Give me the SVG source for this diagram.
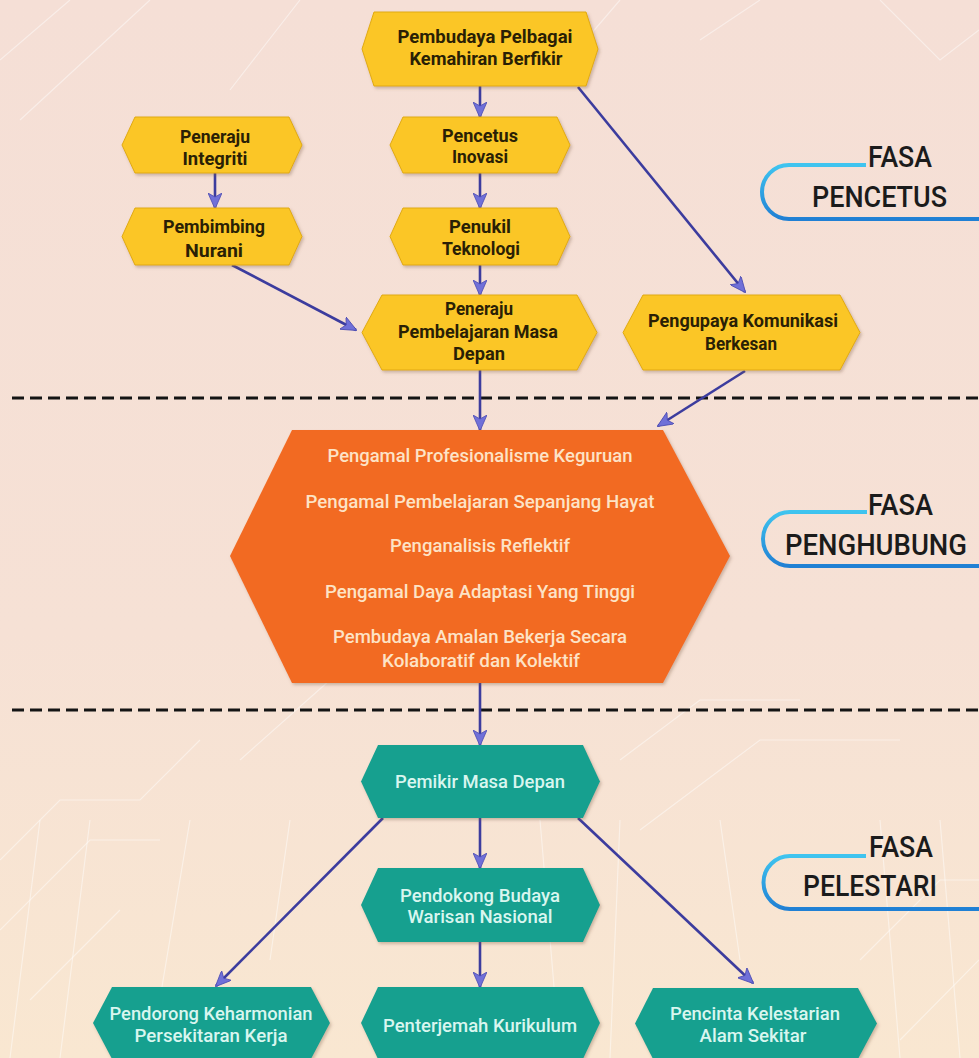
<svg xmlns="http://www.w3.org/2000/svg" width="979" height="1058" viewBox="0 0 979 1058">
<defs>
<linearGradient id="bg" x1="0" y1="0" x2="0" y2="1">
<stop offset="0" stop-color="#f5dfd6"/>
<stop offset="0.6" stop-color="#f6e1d5"/>
<stop offset="1" stop-color="#f9e7d1"/>
</linearGradient>
<linearGradient id="brk" x1="0" y1="0" x2="0" y2="1">
<stop offset="0" stop-color="#3fc4ef"/>
<stop offset="1" stop-color="#2080d4"/>
</linearGradient>
<filter id="sh" x="-10%" y="-10%" width="120%" height="130%">
<feDropShadow dx="1.5" dy="2" stdDeviation="1.5" flood-color="#7a5a40" flood-opacity="0.35"/>
</filter>
<marker id="ah" markerUnits="userSpaceOnUse" markerWidth="16" markerHeight="14" refX="15" refY="7" orient="auto">
<path d="M0,0 L16,7 L0,14 L4,7 Z" fill="#7070d8" stroke="#4a4ab2" stroke-width="0.8"/>
</marker>
<style>
.yel{fill:#fbc625;stroke:#e0a912;stroke-width:1;filter:url(#sh)}
.org{fill:#f26a22;filter:url(#sh)}
.teal{fill:#17a08f;filter:url(#sh)}
.ty{font-family:Roboto,"Liberation Sans",sans-serif;font-weight:bold;font-size:18px;fill:#2a1f05;text-anchor:middle}
.to{font-family:Roboto,"Liberation Sans",sans-serif;font-weight:500;font-size:18px;fill:#fde3c6;text-anchor:middle}
.tt{font-family:Roboto,"Liberation Sans",sans-serif;font-weight:500;font-size:18px;fill:#d9f6ef;text-anchor:middle}
.ph{font-family:Roboto,"Liberation Sans",sans-serif;font-weight:500;font-size:29px;fill:#1b1b1b}
.conn{stroke:#3c3c9e;stroke-width:2.6;fill:none;marker-end:url(#ah)}
.dash{stroke:#141414;stroke-width:3;stroke-dasharray:12 6;fill:none}
.bk{fill:none;stroke:url(#brk);stroke-width:4}
.deco{stroke:#ffffff;stroke-opacity:0.45;fill:none;stroke-width:1.2}
</style>
</defs>
<rect width="979" height="1058" fill="url(#bg)"/>
<g id="background-decor">
<path class="deco" d="M0,60 L70,0 M20,120 L150,0 M300,0 L230,90 M620,0 L560,70 M700,40 L760,0 M880,0 L940,60 L979,30"/>
<path class="deco" d="M0,860 L60,800 L140,800 L200,740 M0,930 L90,840 L160,840 M240,760 L330,680 M30,1000 L120,910 M620,760 L700,700 L800,700 M640,830 L760,740 L900,740 M860,960 L940,880 L979,880 M900,1040 L979,960"/>
<path class="deco" d="M40,820 L10,1058 M90,820 L60,1058 M190,820 L150,1058 M290,820 L270,960 M540,820 L560,1058 M620,820 L610,1058 M720,820 L740,960 M880,820 L900,1058 M940,820 L960,1058" stroke-opacity="0.3"/>
</g>
<g id="dividers">
<line class="dash" x1="12" y1="398" x2="979" y2="398"/>
<line class="dash" x1="12" y1="710" x2="979" y2="710"/>
</g>
<g id="phase-pencetus">
<path class="bk" d="M866,165 L789,165 A27,27 0 0 0 789,219 L979,219"/>
<text class="ph" x="868" y="167" textLength="64" lengthAdjust="spacingAndGlyphs">FASA</text>
<text class="ph" x="812" y="207" textLength="135" lengthAdjust="spacingAndGlyphs">PENCETUS</text>
</g>
<g id="phase-penghubung">
<path class="bk" d="M867,512 L790,512 A27,27 0 0 0 790,566 L979,566"/>
<text class="ph" x="868" y="515" textLength="65" lengthAdjust="spacingAndGlyphs">FASA</text>
<text class="ph" x="785" y="555" textLength="182" lengthAdjust="spacingAndGlyphs">PENGHUBUNG</text>
</g>
<g id="phase-pelestari">
<path class="bk" d="M866,856 L790,856 A26.5,26.5 0 0 0 790,909 L979,909"/>
<text class="ph" x="869" y="857" textLength="64" lengthAdjust="spacingAndGlyphs">FASA</text>
<text class="ph" x="803" y="896" textLength="134" lengthAdjust="spacingAndGlyphs">PELESTARI</text>
</g>
<g id="connectors">
<line class="conn" x1="480" y1="86" x2="480" y2="117"/>
<line class="conn" x1="578" y1="87" x2="745" y2="292"/>
<line class="conn" x1="215" y1="173" x2="215" y2="208"/>
<line class="conn" x1="480" y1="173" x2="480" y2="208"/>
<line class="conn" x1="480" y1="265" x2="480" y2="295"/>
<line class="conn" x1="232" y1="265" x2="356" y2="330"/>
<line class="conn" x1="480" y1="370" x2="480" y2="430"/>
<line class="conn" x1="745" y1="371" x2="658" y2="426"/>
<line class="conn" x1="480" y1="683" x2="480" y2="745"/>
<line class="conn" x1="480" y1="818" x2="480" y2="868"/>
<line class="conn" x1="383" y1="818" x2="216" y2="986"/>
<line class="conn" x1="578" y1="818" x2="753" y2="983"/>
<line class="conn" x1="480" y1="942" x2="480" y2="987"/>
</g>
<g id="n-pembudaya-berfikir">
<path class="yel" d="M362,49 L374,12 L586,12 L598,49 L586,86 L374,86 Z"/>
<text class="ty" x="485" y="43" textLength="175" lengthAdjust="spacingAndGlyphs">Pembudaya Pelbagai</text>
<text class="ty" x="486" y="65" textLength="153" lengthAdjust="spacingAndGlyphs">Kemahiran Berfikir</text>
</g>
<g id="n-peneraju-integriti">
<path class="yel" d="M122,145 L135,117 L289,117 L302,145 L289,173 L135,173 Z"/>
<text class="ty" x="215" y="143" textLength="70" lengthAdjust="spacingAndGlyphs">Peneraju</text>
<text class="ty" x="215" y="165" textLength="65" lengthAdjust="spacingAndGlyphs">Integriti</text>
</g>
<g id="n-pembimbing-nurani">
<path class="yel" d="M122,236.5 L135,208 L289,208 L302,236.5 L289,265 L135,265 Z"/>
<text class="ty" x="214" y="233" textLength="102" lengthAdjust="spacingAndGlyphs">Pembimbing</text>
<text class="ty" x="214" y="257" textLength="58" lengthAdjust="spacingAndGlyphs">Nurani</text>
</g>
<g id="n-pencetus-inovasi">
<path class="yel" d="M390,145 L403,117 L557,117 L570,145 L557,173 L403,173 Z"/>
<text class="ty" x="480" y="142" textLength="76" lengthAdjust="spacingAndGlyphs">Pencetus</text>
<text class="ty" x="480" y="163" textLength="56" lengthAdjust="spacingAndGlyphs">Inovasi</text>
</g>
<g id="n-penukil-teknologi">
<path class="yel" d="M390,236.5 L403,208 L557,208 L570,236.5 L557,265 L403,265 Z"/>
<text class="ty" x="480" y="233" textLength="62" lengthAdjust="spacingAndGlyphs">Penukil</text>
<text class="ty" x="481" y="255" textLength="78" lengthAdjust="spacingAndGlyphs">Teknologi</text>
</g>
<g id="n-peneraju-pembelajaran">
<path class="yel" d="M362,332.5 L382,295 L577,295 L597,332.5 L577,370 L382,370 Z"/>
<text class="ty" x="479" y="315" textLength="68" lengthAdjust="spacingAndGlyphs">Peneraju</text>
<text class="ty" x="478" y="338" textLength="160" lengthAdjust="spacingAndGlyphs">Pembelajaran Masa</text>
<text class="ty" x="479" y="360" textLength="52" lengthAdjust="spacingAndGlyphs">Depan</text>
</g>
<g id="n-pengupaya-komunikasi">
<path class="yel" d="M623,332.5 L643,295 L840,295 L860,332.5 L840,370 L643,370 Z"/>
<text class="ty" x="743" y="327" textLength="190" lengthAdjust="spacingAndGlyphs">Pengupaya Komunikasi</text>
<text class="ty" x="741" y="350" textLength="72" lengthAdjust="spacingAndGlyphs">Berkesan</text>
</g>
<g id="n-penghubung-kluster">
<path class="org" d="M230,556 L292,430 L663,430 L730,556 L663,683 L292,683 Z"/>
<text class="to" x="480" y="462" textLength="305" lengthAdjust="spacingAndGlyphs">Pengamal Profesionalisme Keguruan</text>
<text class="to" x="480" y="508" textLength="349" lengthAdjust="spacingAndGlyphs">Pengamal Pembelajaran Sepanjang Hayat</text>
<text class="to" x="480" y="552" textLength="180" lengthAdjust="spacingAndGlyphs">Penganalisis Reflektif</text>
<text class="to" x="480" y="598" textLength="310" lengthAdjust="spacingAndGlyphs">Pengamal Daya Adaptasi Yang Tinggi</text>
<text class="to" x="480" y="643" textLength="294" lengthAdjust="spacingAndGlyphs">Pembudaya Amalan Bekerja Secara</text>
<text class="to" x="481" y="667" textLength="198" lengthAdjust="spacingAndGlyphs">Kolaboratif dan Kolektif</text>
</g>
<g id="n-pemikir-masa-depan">
<path class="teal" d="M361,781.5 L378,745 L583,745 L600,781.5 L583,818 L378,818 Z"/>
<text class="tt" x="480" y="788" textLength="170" lengthAdjust="spacingAndGlyphs">Pemikir Masa Depan</text>
</g>
<g id="n-pendokong-budaya">
<path class="teal" d="M361,905 L378,868 L583,868 L600,905 L583,942 L378,942 Z"/>
<text class="tt" x="480" y="902" textLength="160" lengthAdjust="spacingAndGlyphs">Pendokong Budaya</text>
<text class="tt" x="480" y="923" textLength="145" lengthAdjust="spacingAndGlyphs">Warisan Nasional</text>
</g>
<g id="n-pendorong-keharmonian">
<path class="teal" d="M93,1023 L112,987 L311,987 L330,1023 L311,1059 L112,1059 Z"/>
<text class="tt" x="211" y="1020" textLength="203" lengthAdjust="spacingAndGlyphs">Pendorong Keharmonian</text>
<text class="tt" x="211" y="1042" textLength="153" lengthAdjust="spacingAndGlyphs">Persekitaran Kerja</text>
</g>
<g id="n-penterjemah-kurikulum">
<path class="teal" d="M361,1023 L378,987 L583,987 L600,1023 L583,1059 L378,1059 Z"/>
<text class="tt" x="480" y="1032" textLength="194" lengthAdjust="spacingAndGlyphs">Penterjemah Kurikulum</text>
</g>
<g id="n-pencinta-kelestarian">
<path class="teal" d="M635,1023.5 L653,988 L858,988 L877,1023.5 L858,1059 L653,1059 Z"/>
<text class="tt" x="755" y="1020" textLength="170" lengthAdjust="spacingAndGlyphs">Pencinta Kelestarian</text>
<text class="tt" x="753" y="1042" textLength="107" lengthAdjust="spacingAndGlyphs">Alam Sekitar</text>
</g>
</svg>
